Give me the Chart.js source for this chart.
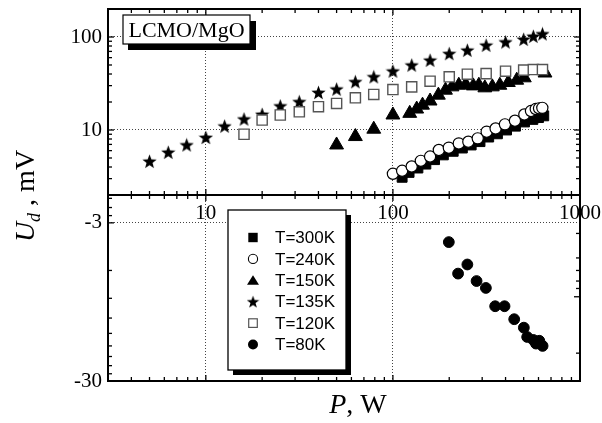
<!DOCTYPE html>
<html><head><meta charset="utf-8">
<script src="https://cdn.jsdelivr.net/npm/chart.js@4.4.0/dist/chart.umd.min.js"></script>
<style>html,body{margin:0;padding:0;background:#fff}</style>
</head><body>
<canvas id="c" width="602" height="423" style="display:block;width:602px;height:423px"></canvas>
<script>
// ---------- data (P in W, Ud in mV) ----------
const LABELS = ['T=300K', 'T=240K', 'T=150K', 'T=135K', 'T=120K', 'T=80K'];

const P_300K = [112, 122, 136, 150, 167, 186, 210, 235, 262, 292, 325, 362, 405, 452, 505, 560, 600, 640];
const U_300K = [3.1, 3.5, 3.9, 4.3, 4.8, 5.4, 5.9, 6.4, 6.9, 7.5, 8.4, 9.1, 10.0, 11.0, 12.2, 13.0, 13.6, 14.2];

const P_240K = [100, 112, 126, 141, 158, 176, 199, 225, 253, 284, 317, 354, 397, 449, 504, 547, 580, 604, 629];
const U_240K = [3.38, 3.64, 4.05, 4.66, 5.18, 6.1, 6.46, 7.18, 7.49, 8.13, 9.6, 10.4, 11.5, 12.6, 14.7, 16.0, 16.8, 17.1, 17.3];

const P_150K = [50, 63, 79, 100, 123, 134, 144, 158, 175, 191, 207, 225, 245, 269, 288, 310, 340, 373, 414, 459, 504, 650];
const U_150K = [6.9, 8.5, 10.2, 14.5, 15.1, 16.8, 18.5, 20.5, 23.7, 26.8, 29.1, 30.3, 30.8, 29.8, 30.3, 28.4, 29.1, 30.3, 32.4, 34.3, 36.4, 41];

const P_135K = [5.0, 6.3, 7.9, 10, 12.6, 16, 20, 25, 31.6, 40, 50, 63, 79, 100, 126, 158, 200, 250, 315, 400, 500, 563, 630];
const U_135K = [4.6, 5.75, 6.9, 8.3, 11.0, 13.1, 14.7, 18.1, 20.1, 25.3, 27.5, 33.0, 37.3, 42.9, 49.8, 56.2, 66.2, 72, 81.5, 88.3, 94.4, 101.6, 108];

const P_120K = [16, 20, 25, 31.6, 40, 50, 63, 79, 100, 126, 158, 200, 250, 315, 400, 500, 563, 630];
const U_120K = [9.0, 12.8, 14.5, 15.7, 17.8, 19.3, 22.2, 24.1, 27.2, 29.1, 33.5, 37.3, 39.8, 40.4, 42.9, 44.0, 44.7, 44.7];

const P_80K = [199, 223, 250, 280, 314, 352, 395, 445, 501, 522, 563, 582, 606, 631];
const U_80K = [-3.97, -6.28, -5.5, -7.0, -7.74, -10.1, -10.1, -12.2, -13.8, -15.8, -16.5, -17.4, -16.7, -18.0];

// ---------- axis ticks ----------
const X_TICKS = [10, 100, 1000];
const Y_TOP_TICKS = [10, 100];
const Y_BOT_TICKS = [3, 30];          // magnitudes of the negative panel (-3, -30)
const X_MINOR = [3,4,5,6,7,8,9,20,30,40,50,60,70,80,90,200,300,400,500,600,700,800,900];
const Y_TOP_MINOR = [2,3,4,5,6,7,8,9,20,30,40,50,60,70,80,90];
const Y_BOT_LEFT_MINOR = [2.1,2.4,2.7,6,9,12,15,18,21,24,27];
const Y_BOT_RIGHT_MINOR = [3.5,5,6,7,7.8,20];
const Y_BOT_RIGHT_MAJOR = [8.8];

// ---------- styles ----------
const SERIF = 'Liberation Serif';
const SANS = 'Liberation Sans';

function starCanvas(size) {
  const c = document.createElement('canvas');
  c.width = size; c.height = size;
  const g = c.getContext('2d');
  const R = size / 2, r = R * 0.42, cx = size / 2, cy = size / 2 + size * 0.04;
  g.beginPath();
  for (let i = 0; i < 10; i++) {
    const rad = i % 2 ? r : R;
    const a = -Math.PI / 2 + i * Math.PI / 5;
    const px = cx + rad * Math.cos(a), py = cy + rad * Math.sin(a);
    i ? g.lineTo(px, py) : g.moveTo(px, py);
  }
  g.closePath(); g.fillStyle = '#000'; g.fill();
  return c;
}
const STAR = starCanvas(15);

const pts = (P, U) => P.map((p, i) => ({x: p, y: Math.abs(U[i])}));

const datasets = [
  {label: LABELS[0], data: pts(P_300K, U_300K), pointStyle: 'rect', pointRadius: 7,
   backgroundColor: '#000', borderColor: '#000', borderWidth: 1, order: 1},
  {label: LABELS[1], data: pts(P_240K, U_240K), pointStyle: 'circle', pointRadius: 5.6,
   backgroundColor: '#fff', borderColor: '#000', borderWidth: 1.2, order: 0},
  {label: LABELS[2], data: pts(P_150K, U_150K), pointStyle: 'triangle', pointRadius: 8,
   backgroundColor: '#000', borderColor: '#000', borderWidth: 1, order: 3},
  {label: LABELS[3], data: pts(P_135K, U_135K), pointStyle: STAR, pointRadius: 7,
   backgroundColor: '#000', borderColor: '#000', order: 4},
  {label: LABELS[4], data: pts(P_120K, U_120K), pointStyle: 'rect', pointRadius: 7.2,
   backgroundColor: '#fff', borderColor: '#555', borderWidth: 1.4, order: 2},
  {label: LABELS[5], data: pts(P_80K, U_80K), pointStyle: 'circle', pointRadius: 5.4,
   backgroundColor: '#000', borderColor: '#000', borderWidth: 1, order: 5, yAxisID: 'y2'}
];

const setTicks = arr => s => { s.ticks = arr.map(v => ({value: v})); };
const gridOpts = {color: '#444', lineWidth: 1, drawTicks: false};
const borderOpts = {display: false, dash: [1, 2]};
const fitY = s => { s.width = 108; s.paddingTop = 0; s.paddingBottom = 0; };

const framePlugin = {
  id: 'frame',
  afterDraw(chart) {
    const {ctx, chartArea: a, scales} = chart;
    const sx = scales.x, sy = scales.y, sy2 = scales.y2;
    const mid = sy.bottom;
    ctx.save();
    ctx.strokeStyle = '#000';
    ctx.lineWidth = 1.3;
    const ln = (x1, y1, x2, y2) => { ctx.beginPath(); ctx.moveTo(x1, y1); ctx.lineTo(x2, y2); ctx.stroke(); };
    const xt = (v, L) => {
      const px = sx.getPixelForValue(v);
      ln(px, a.top, px, a.top + L);
      ln(px, mid - L, px, mid + L);
      ln(px, a.bottom, px, a.bottom - L);
    };
    X_MINOR.forEach(v => xt(v, 4));
    X_TICKS.forEach(v => xt(v, 6));
    const yt = (s, v, L, left, right) => {
      const py = s.getPixelForValue(v);
      if (left) ln(a.left, py, a.left + L, py);
      if (right) ln(a.right, py, a.right - L, py);
    };
    Y_TOP_MINOR.forEach(v => yt(sy, v, 4, true, true));
    Y_TOP_TICKS.forEach(v => yt(sy, v, 6, true, true));
    Y_BOT_LEFT_MINOR.forEach(v => yt(sy2, v, 4, true, false));
    yt(sy2, 3, 6, true, false);
    Y_BOT_RIGHT_MINOR.forEach(v => yt(sy2, v, 4, false, true));
    Y_BOT_RIGHT_MAJOR.forEach(v => yt(sy2, v, 6, false, true));
    ctx.lineWidth = 2;
    ctx.strokeRect(a.left, a.top, a.right - a.left, a.bottom - a.top);
    ln(a.left, mid, a.right, mid);

    // axis titles
    ctx.fillStyle = '#000';
    ctx.textBaseline = 'alphabetic';
    const xparts = [['italic 28px ' + SERIF, 'P', 0], ['28px ' + SERIF, ', W', 0]];
    let tw = 0; xparts.forEach(p => { ctx.font = p[0]; tw += ctx.measureText(p[1]).width; });
    let cx = (a.left + a.right) / 2 - tw / 2 + 14;
    xparts.forEach(p => { ctx.font = p[0]; ctx.fillText(p[1], cx, 413 + p[2]); cx += ctx.measureText(p[1]).width; });
    ctx.save();
    ctx.translate(34, 196);
    ctx.rotate(-Math.PI / 2);
    const yparts = [['italic 28px ' + SERIF, 'U', 0], ['italic 18px ' + SERIF, 'd', 6], ['28px ' + SERIF, ' , mV', 0]];
    tw = 0; yparts.forEach(p => { ctx.font = p[0]; tw += ctx.measureText(p[1]).width; });
    cx = -tw / 2;
    yparts.forEach(p => { ctx.font = p[0]; ctx.fillText(p[1], cx, p[2]); cx += ctx.measureText(p[1]).width; });
    ctx.restore();
    ctx.restore();
  }
};

function drawMarker(ctx, style, x, y) {
  ctx.save();
  ctx.fillStyle = '#000'; ctx.strokeStyle = '#000'; ctx.lineWidth = 1.1;
  if (style === 'fsq') ctx.fillRect(x - 4.7, y - 4.7, 9.4, 9.4);
  else if (style === 'osq') { ctx.strokeStyle = '#555'; ctx.lineWidth = 1.2; ctx.strokeRect(x - 4.3, y - 4.3, 8.6, 8.6); }
  else if (style === 'oci') { ctx.beginPath(); ctx.arc(x, y, 4.6, 0, Math.PI * 2); ctx.stroke(); }
  else if (style === 'fci') { ctx.beginPath(); ctx.arc(x, y, 5, 0, Math.PI * 2); ctx.fill(); }
  else if (style === 'tri') { ctx.beginPath(); ctx.moveTo(x, y - 5); ctx.lineTo(x + 6, y + 4.5); ctx.lineTo(x - 6, y + 4.5); ctx.closePath(); ctx.fill(); }
  else if (style === 'star') { ctx.drawImage(STAR, x - 6.5, y - 6.5, 13, 13); }
  ctx.restore();
}

const notePlugin = {
  id: 'notes',
  afterDraw(chart) {
    const ctx = chart.ctx;
    ctx.save();
    ctx.fillStyle = '#000';
    ctx.fillRect(128, 21, 128, 29);
    ctx.fillStyle = '#fff';
    ctx.fillRect(123, 15, 127, 29);
    ctx.strokeStyle = '#000'; ctx.lineWidth = 1.2;
    ctx.strokeRect(123, 15, 127, 29);
    ctx.fillStyle = '#000';
    ctx.font = '22px ' + SERIF;
    ctx.textAlign = 'center'; ctx.textBaseline = 'alphabetic';
    ctx.fillText('LCMO/MgO', 186.5, 37);

    ctx.fillStyle = '#000';
    ctx.fillRect(233, 215, 118, 160);
    ctx.fillStyle = '#fff';
    ctx.fillRect(228, 210, 118, 160);
    ctx.lineWidth = 1.3;
    ctx.strokeRect(228, 210, 118, 160);
    const styles = ['fsq', 'oci', 'tri', 'star', 'osq', 'fci'];
    ctx.fillStyle = '#000';
    ctx.font = '17px ' + SANS;
    ctx.textAlign = 'left'; ctx.textBaseline = 'middle';
    chart.data.datasets.forEach((ds, i) => {
      const yy = 237.5 + i * 21.4;
      drawMarker(ctx, styles[i], 253, yy);
      ctx.fillText(ds.label, 275, yy + 1);
    });
    ctx.restore();
  }
};

new Chart(document.getElementById('c'), {
  type: 'scatter',
  data: {datasets},
  options: {
    responsive: false,
    animation: false,
    devicePixelRatio: 1,
    events: [],
    layout: {padding: {left: 0, right: 22, top: 7, bottom: 42}},
    plugins: {legend: {display: false}, tooltip: {enabled: false}},
    scales: {
      x: {
        type: 'logarithmic', min: 3, max: 1000, position: 'bottom',
        afterBuildTicks: setTicks(X_TICKS),
        ticks: {display: false},
        grid: gridOpts, border: borderOpts,
        afterFit: s => { s.height = 0; s.paddingLeft = 0; s.paddingRight = 0; }
      },
      x2: {
        axis: 'x', type: 'logarithmic', min: 3, max: 1000, position: {y2: 2},
        afterBuildTicks: setTicks(X_TICKS),
        ticks: {color: '#000', font: {family: SERIF, size: 21}, padding: 6, autoSkip: false, maxRotation: 0,
                callback: v => String(v)},
        grid: {display: false, drawTicks: false}, border: {display: false},
        afterFit: s => { s.paddingLeft = 0; s.paddingRight = 0; }
      },
      y: {
        type: 'logarithmic', min: 2, max: 200, position: 'left', stack: 'panels', stackWeight: 1, weight: 2,
        afterBuildTicks: setTicks(Y_TOP_TICKS),
        ticks: {color: '#000', font: {family: SERIF, size: 21}, padding: 6, callback: v => String(v)},
        grid: gridOpts, border: borderOpts,
        afterFit: fitY
      },
      y2: {
        type: 'logarithmic', min: 2, max: 30, reverse: true, position: 'left', stack: 'panels', stackWeight: 1, weight: 1,
        afterBuildTicks: setTicks(Y_BOT_TICKS),
        ticks: {color: '#000', font: {family: SERIF, size: 21}, padding: 6, callback: v => '-' + v},
        grid: {color: ctx => ctx.tick && ctx.tick.value === 30 ? 'rgba(0,0,0,0)' : '#444', lineWidth: 1, drawTicks: false},
        border: borderOpts,
        afterFit: fitY
      }
    }
  },
  plugins: [framePlugin, notePlugin]
});
</script>
</body></html>
